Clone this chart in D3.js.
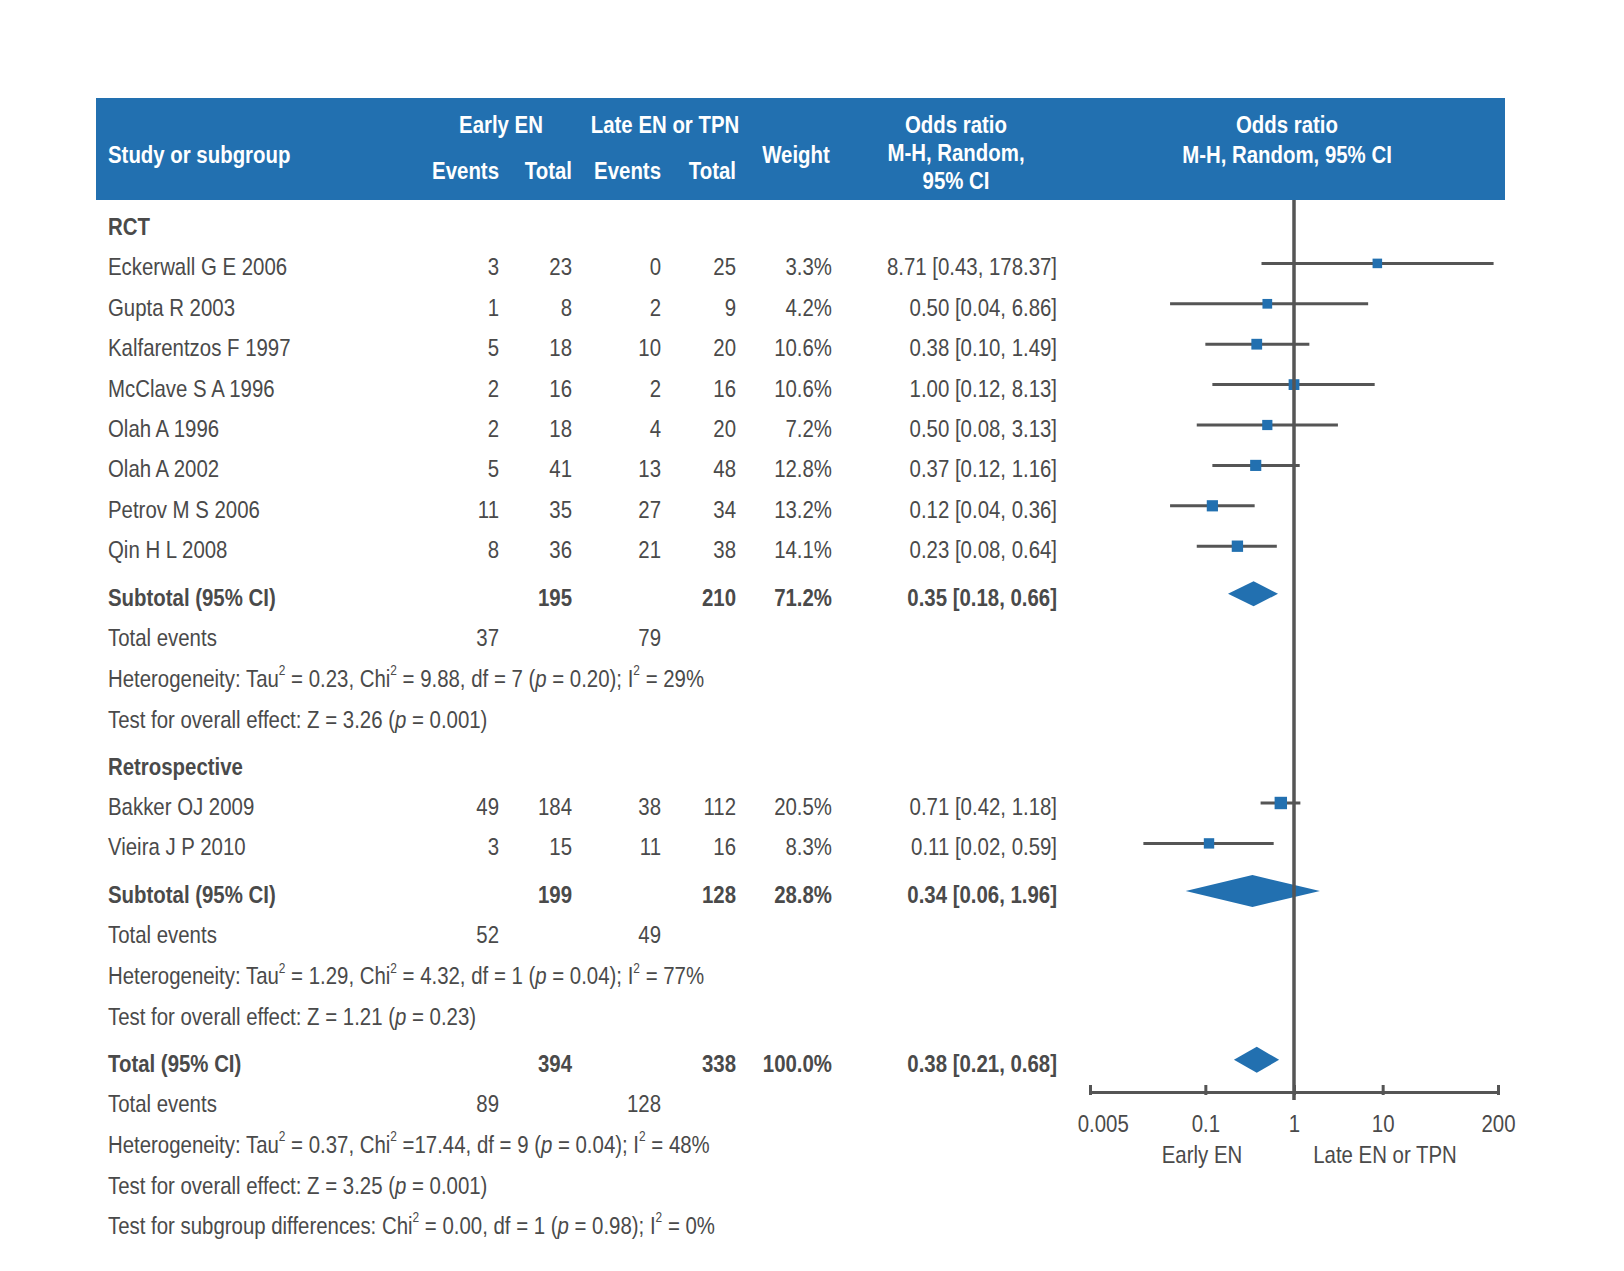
<!DOCTYPE html>
<html>
<head>
<meta charset="utf-8">
<script src="https://cdn.jsdelivr.net/npm/d3@7"></script>
<style>
  html, body { margin: 0; padding: 0; background: #fff; }
  svg text { font-family: "Liberation Sans", Arial, sans-serif; }
</style>
</head>
<body>
<svg id="chart" width="1624" height="1271"></svg>
<script>
// ---------------- DATA ----------------
const rctStudies = ["Eckerwall G E 2006", "Gupta R 2003", "Kalfarentzos F 1997", "McClave S A 1996",
                    "Olah A 1996", "Olah A 2002", "Petrov M S 2006", "Qin H L 2008"];
const rctEarlyEvents = [3, 1, 5, 2, 2, 5, 11, 8];
const rctEarlyTotal  = [23, 8, 18, 16, 18, 41, 35, 36];
const rctLateEvents  = [0, 2, 10, 2, 4, 13, 27, 21];
const rctLateTotal   = [25, 9, 20, 16, 20, 48, 34, 38];
const rctWeight      = [3.3, 4.2, 10.6, 10.6, 7.2, 12.8, 13.2, 14.1];
const rctOR          = [8.71, 0.50, 0.38, 1.00, 0.50, 0.37, 0.12, 0.23];
const rctLow         = [0.43, 0.04, 0.10, 0.12, 0.08, 0.12, 0.04, 0.08];
const rctHigh        = [178.37, 6.86, 1.49, 8.13, 3.13, 1.16, 0.36, 0.64];

const retroStudies = ["Bakker OJ 2009", "Vieira J P 2010"];
const retroEarlyEvents = [49, 3];
const retroEarlyTotal  = [184, 15];
const retroLateEvents  = [38, 11];
const retroLateTotal   = [112, 16];
const retroWeight      = [20.5, 8.3];
const retroOR          = [0.71, 0.11];
const retroLow         = [0.42, 0.02];
const retroHigh        = [1.18, 0.59];

// summaries: [earlyTotal, lateTotal, weight, OR, low, high, earlyEvents, lateEvents]
const rctSummary   = [195, 210, 71.2, 0.35, 0.18, 0.66, 37, 79];
const retroSummary = [199, 128, 28.8, 0.34, 0.06, 1.96, 52, 49];
const totalSummary = [394, 338, 100.0, 0.38, 0.21, 0.68, 89, 128];

// [tau2, chi2 (with its "=" prefix), df, p, I2]
const rctHetero   = ["0.23", "= 9.88", "7", "0.20", "29%"];
const rctOverall  = ["3.26", "0.001"];
const retroHetero = ["1.29", "= 4.32", "1", "0.04", "77%"];
const retroOverall = ["1.21", "0.23"];
const totalHetero = ["0.37", "=17.44", "9", "0.04", "48%"];
const totalOverall = ["3.25", "0.001"];
const subgroupDiff = ["0.00", "1", "0.98", "0%"];

const axisTicks = [0.005, 0.1, 1, 10, 200];
const axisTickLabels = ["0.005", "0.1", "1", "10", "200"];
const favoursLabels = ["Early EN", "Late EN or TPN"];

// ---------------- STYLE / LAYOUT ----------------
const BLUE = "#2270b0";
const TXT = "#4a4a4a";
const LINE = "#555555";
const FS = 24;
const SX = 0.85;   // horizontal condensing of the text

const svg = d3.select("#chart");

const colName = 108, colEE = 499, colET = 572, colLE = 661, colLT = 736, colW = 832, colOR = 1057;

function T(xp, y, t, opts) {
  opts = opts || {};
  const g = svg.append("g").attr("transform", `translate(${xp},${y}) scale(${SX},1)`);
  const el = g.append("text").attr("x", 0).attr("y", 0)
    .attr("text-anchor", opts.anchor || "end").attr("dominant-baseline", "central")
    .attr("fill", opts.fill || TXT).attr("font-size", FS)
    .attr("font-weight", opts.bold ? "bold" : null);
  if (t !== null) el.text(t);
  return el;
}

// header
svg.append("rect").attr("x", 96).attr("y", 98).attr("width", 1409).attr("height", 102).attr("fill", BLUE);
const hdr = (xp, y, t, anchor) => T(xp, y, t, { anchor: anchor || "middle", fill: "#fff", bold: true });
hdr(colName, 155, "Study or subgroup", "start");
hdr(501, 125, "Early EN");
hdr(665, 125, "Late EN or TPN");
hdr(colEE, 171, "Events", "end");
hdr(colET, 171, "Total", "end");
hdr(colLE, 171, "Events", "end");
hdr(colLT, 171, "Total", "end");
hdr(796, 155, "Weight");
hdr(956, 125, "Odds ratio");
hdr(956, 153, "M-H, Random,");
hdr(956, 181, "95% CI");
hdr(1287, 125, "Odds ratio");
hdr(1287, 155, "M-H, Random, 95% CI");

// x scale (log)
const x = d3.scaleLog().domain([0.005, 200]).range([1090, 1498]);

// row layout
const STEP = 40.4, GAP = 7.2;
let yCur = 227;
function nextRow(extra) { const y = yCur; yCur += STEP + (extra || 0); return y; }

const fmtW = d => d.toFixed(1) + "%";
const fmtOR = (o, l, h) => `${o.toFixed(2)} [${l.toFixed(2)}, ${h.toFixed(2)}]`;

const sizeScale = d3.scaleLinear().domain([3, 21]).range([9.5, 12.5]);
const MK = -4;

function studyRows(names, ee, et, le, lt, w, or, lo, hi) {
  names.forEach((n, i) => {
    const y = nextRow();
    T(colName, y, n, { anchor: "start" });
    T(colEE, y, ee[i]); T(colET, y, et[i]); T(colLE, y, le[i]); T(colLT, y, lt[i]);
    T(colW, y, fmtW(w[i]));
    T(colOR, y, fmtOR(or[i], lo[i], hi[i]));
    svg.append("line").attr("x1", x(lo[i])).attr("x2", x(hi[i])).attr("y1", y + MK).attr("y2", y + MK)
      .attr("stroke", LINE).attr("stroke-width", 3);
    const s = sizeScale(w[i]);
    svg.append("rect").attr("x", x(or[i]) - s / 2).attr("y", y + MK - s / 2).attr("width", s).attr("height", s)
      .attr("fill", BLUE);
  });
}

function diamond(y, s, hh) {
  const pts = [[x(s[4]), y], [x(s[3]), y - hh], [x(s[5]), y], [x(s[3]), y + hh]];
  svg.append("path").attr("d", d3.line()(pts) + "Z").attr("fill", BLUE);
}

function summaryRow(label, s, hh) {
  const y = nextRow();
  T(colName, y, label, { anchor: "start", bold: true });
  T(colET, y, s[0], { bold: true });
  T(colLT, y, s[1], { bold: true });
  T(colW, y, fmtW(s[2]), { bold: true });
  T(colOR, y, fmtOR(s[3], s[4], s[5]), { bold: true });
  diamond(y + MK, s, hh);
  const y2 = nextRow();
  T(colName, y2, "Total events", { anchor: "start" });
  T(colEE, y2, s[6]);
  T(colLE, y2, s[7]);
}

function richLine(y, parts) {
  const t = T(colName, y, null, { anchor: "start" });
  parts.forEach(p => {
    const ts = t.append("tspan").text(p.t);
    if (p.sup) ts.attr("font-size", 14).attr("baseline-shift", "super");
    if (p.it) ts.attr("font-style", "italic");
  });
}
function heteroRow(h) {
  richLine(nextRow(), [
    { t: "Heterogeneity: Tau" }, { t: "2", sup: 1 }, { t: " = " + h[0] + ", Chi" }, { t: "2", sup: 1 },
    { t: " " + h[1] + ", df = " + h[2] + " (" }, { t: "p", it: 1 }, { t: " = " + h[3] + "); I" }, { t: "2", sup: 1 },
    { t: " = " + h[4] }
  ]);
}
function overallRow(o, extra) {
  richLine(nextRow(extra), [{ t: "Test for overall effect: Z = " + o[0] + " (" }, { t: "p", it: 1 }, { t: " = " + o[1] + ")" }]);
}

// RCT section
T(colName, nextRow(), "RCT", { anchor: "start", bold: true });
studyRows(rctStudies, rctEarlyEvents, rctEarlyTotal, rctLateEvents, rctLateTotal, rctWeight, rctOR, rctLow, rctHigh);
yCur += GAP;
summaryRow("Subtotal (95% CI)", rctSummary, 12.5);
heteroRow(rctHetero);
overallRow(rctOverall, GAP);

// Retrospective
T(colName, nextRow(), "Retrospective", { anchor: "start", bold: true });
studyRows(retroStudies, retroEarlyEvents, retroEarlyTotal, retroLateEvents, retroLateTotal, retroWeight, retroOR, retroLow, retroHigh);
yCur += GAP;
summaryRow("Subtotal (95% CI)", retroSummary, 16);
heteroRow(retroHetero);
overallRow(retroOverall, GAP);

// Total
summaryRow("Total (95% CI)", totalSummary, 13);
heteroRow(totalHetero);
overallRow(totalOverall);
richLine(nextRow(), [{ t: "Test for subgroup differences: Chi" }, { t: "2", sup: 1 },
  { t: " = " + subgroupDiff[0] + ", df = " + subgroupDiff[1] + " (" }, { t: "p", it: 1 },
  { t: " = " + subgroupDiff[2] + "); I" }, { t: "2", sup: 1 }, { t: " = " + subgroupDiff[3] }]);

// vertical line of no effect
svg.append("line").attr("x1", x(1)).attr("x2", x(1)).attr("y1", 200).attr("y2", 1100)
  .attr("stroke", LINE).attr("stroke-width", 3.5);

// axis
const axisY = 1092;
const ax = d3.axisBottom(x).tickValues(axisTicks).tickFormat((d, i) => axisTickLabels[i])
  .tickSizeInner(-7).tickSizeOuter(0).tickPadding(23);
const g = svg.append("g").attr("transform", `translate(0,${axisY})`).call(ax);
g.select(".domain").attr("stroke", LINE).attr("stroke-width", 3);
g.selectAll(".tick line").attr("stroke", LINE).attr("stroke-width", 3).attr("y2", -7).attr("y1", 3);
g.selectAll(".tick text").attr("fill", TXT).attr("font-size", FS)
  .attr("font-family", "'Liberation Sans', Arial, sans-serif")
  .attr("transform", `scale(${SX},1)`);
g.selectAll(".tick").filter(d => d === 0.005).select("text").attr("x", 15);

T(1202, 1155, favoursLabels[0], { anchor: "middle" });
T(1385, 1155, favoursLabels[1], { anchor: "middle" });
</script>
</body>
</html>
